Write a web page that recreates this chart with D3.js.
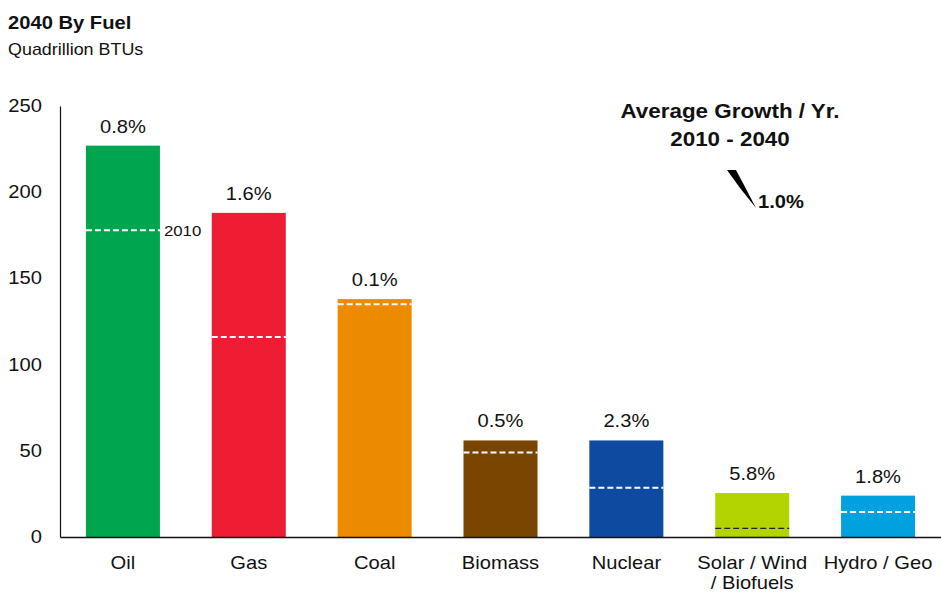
<!DOCTYPE html>
<html>
<head>
<meta charset="utf-8">
<script src="https://cdn.jsdelivr.net/npm/d3@7"></script>
<style>
  html, body { margin: 0; padding: 0; background: #fff; }
  svg { display: block; font-family: "Liberation Sans", Arial, sans-serif; }
</style>
</head>
<body>
<script>
// Energy demand in 2040 by fuel, quadrillion BTUs, with 2010 levels
const categories = ["Oil", "Gas", "Coal", "Biomass", "Nuclear", "Solar / Wind / Biofuels", "Hydro / Geo"];
const categoryLines = [["Oil"], ["Gas"], ["Coal"], ["Biomass"], ["Nuclear"], ["Solar / Wind", "/ Biofuels"], ["Hydro / Geo"]];
const values2040 = [227, 188, 138, 56, 56, 25.5, 24];
const values2010 = [178, 116, 135, 49, 28.5, 5, 14.5];
const growthLabels = ["0.8%", "1.6%", "0.1%", "0.5%", "2.3%", "5.8%", "1.8%"];
const barColors = ["#00A54F", "#EE1D34", "#EC8A00", "#7A4500", "#0E4A9F", "#B3D400", "#00A1DE"];
const markerColors = ["#fff", "#fff", "#fff", "#fff", "#fff", "#222", "#fff"];
const yTicks = [0, 50, 100, 150, 200, 250];

const W = 941, H = 593;
const stretch = 1.12;

const svg = d3.select("body").append("svg")
  .attr("width", W).attr("height", H);

const x = d3.scaleBand()
  .domain(categories)
  .range([60, 941])
  .paddingInner(0.412)
  .paddingOuter(0.206);

const y = d3.scaleLinear()
  .domain([0, 250])
  .range([537, 106]);

// text with a slightly wide set, anchored at (px, py)
function label(parent, px, py, str, size, anchor, weight) {
  return parent.append("text")
    .attr("transform", `translate(${px},${py}) scale(${stretch},1)`)
    .attr("font-size", size)
    .attr("font-weight", weight || "normal")
    .attr("text-anchor", anchor || "start")
    .attr("fill", "#111")
    .text(str);
}

// title
label(svg, 8, 29, "2040 By Fuel", 18, "start", "bold");
label(svg, 8, 55, "Quadrillion BTUs", 16, "start");

// bars
svg.append("g").selectAll("rect")
  .data(categories)
  .join("rect")
  .attr("x", d => x(d))
  .attr("width", x.bandwidth())
  .attr("y", (d, i) => y(values2040[i]))
  .attr("height", (d, i) => y(0) - y(values2040[i]))
  .attr("fill", (d, i) => barColors[i]);

// 2010 markers
svg.append("g").selectAll("line")
  .data(categories)
  .join("line")
  .attr("x1", d => x(d))
  .attr("x2", d => x(d) + x.bandwidth())
  .attr("y1", (d, i) => y(values2010[i]))
  .attr("y2", (d, i) => y(values2010[i]))
  .attr("stroke", (d, i) => markerColors[i])
  .attr("stroke-width", (d, i) => i === 5 ? 1.3 : 2)
  .attr("stroke-dasharray", "6,3");

label(svg, x(categories[0]) + x.bandwidth() + 4, y(values2010[0]) + 6, "2010", 15, "start");

// growth labels
categories.forEach((c, i) => {
  label(svg, x(c) + x.bandwidth() / 2, y(values2040[i]) - 13, growthLabels[i], 18, "middle");
});

// axes
const yAxis = svg.append("g")
  .attr("transform", "translate(60,0)")
  .call(d3.axisLeft(y).tickValues(yTicks).tickSize(0).tickPadding(0));
yAxis.select(".domain").attr("stroke", "#111").attr("stroke-width", 1.2);
yAxis.selectAll(".tick text").remove();
yTicks.forEach(t => label(svg, 42, y(t) + 6, String(t), 18, "end"));

const xAxis = svg.append("g")
  .attr("transform", "translate(0,537)")
  .call(d3.axisBottom(x).tickSize(0).tickFormat(""));
xAxis.select(".domain").attr("stroke", "#111").attr("stroke-width", 1.6);

categories.forEach((c, i) => {
  categoryLines[i].forEach((ln, j) => {
    label(svg, x(c) + x.bandwidth() / 2, 569 + j * 20, ln, 18, "middle");
  });
});

// average growth callout
label(svg, 730, 118, "Average Growth / Yr.", 20, "middle", "bold");
label(svg, 730, 146, "2010 - 2040", 20, "middle", "bold");
svg.append("path")
  .attr("d", "M727,170 L736,170 L745,187 L756,208 L740,188 Z")
  .attr("fill", "#000");
label(svg, 758, 208, "1.0%", 18, "start", "bold");
</script>
</body>
</html>
